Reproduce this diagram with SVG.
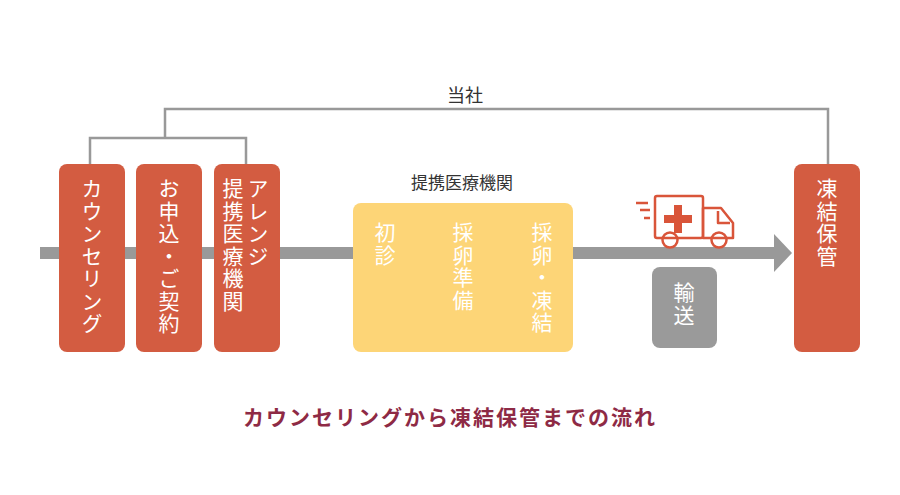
<svg xmlns="http://www.w3.org/2000/svg" width="900" height="495" viewBox="0 0 900 495">
<style>
.b{fill:#d35c41}
.v{font-family:"Noto Sans CJK JP",sans-serif;font-size:21px;writing-mode:vertical-rl;text-orientation:upright;letter-spacing:1.5px}
.w{fill:#fff}
.ln{fill:none;stroke:#999;stroke-width:2.5}
.t{fill:none;stroke:#d9553a;stroke-width:2.5;stroke-linejoin:round}
</style>
<rect width="900" height="495" fill="#fff"/>
<g id="connectors">
<path class="ln" d="M90 164V138H246V164M165 138V109H828V164"/>
<rect x="40" y="247" width="737" height="12" fill="#999"/>
<polygon points="774,234 792,253 774,272" fill="#999"/>
</g>
<text x="465" y="102" text-anchor="middle" font-family="Noto Sans CJK JP,sans-serif" font-size="18" fill="#333">当社</text>
<g id="n1"><rect class="b" x="59" y="164" width="66" height="188" rx="8"/><text class="v w" x="92" y="178">カウンセリング</text></g>
<g id="n2"><rect class="b" x="136" y="164" width="66" height="188" rx="8"/><text class="v w" x="169" y="178">お申込・ご契約</text></g>
<g id="n3"><rect class="b" x="214" y="164" width="66" height="188" rx="8"/><text class="v w" x="258" y="178">アレンジ</text><text class="v w" x="233" y="178">提携医療機関</text></g>
<g id="n4"><text x="462" y="189" text-anchor="middle" font-family="Noto Sans CJK JP,sans-serif" font-size="17" fill="#333">提携医療機関</text>
<rect x="353" y="203" width="220" height="149" rx="8" fill="#fdd577"/>
<text class="v w" x="385" y="222">初診</text><text class="v w" x="463" y="222">採卵準備</text><text class="v w" x="542" y="222">採卵・凍結</text></g>
<g id="truck">
<path class="t" d="M636 203H648M640 210H650M644 218H650"/>
<rect class="t" x="655" y="196" width="48" height="42" rx="2"/>
<path d="M674 205h8v10h10v8h-10v10h-8v-10h-10v-8h10z" fill="#d9553a"/>
<path class="t" d="M703 208H721L733 223V238H703Z"/>
<path class="t" d="M718 211V223H730"/>
<circle class="t" cx="670" cy="240" r="7.5" fill="#fff"/>
<circle class="t" cx="719" cy="240" r="7.5" fill="#fff"/>
</g>
<g id="n5"><rect x="652" y="267" width="65" height="81" rx="8" fill="#9a9a9a"/><text class="v w" x="684" y="282">輸送</text></g>
<g id="n6"><rect class="b" x="794" y="164" width="66" height="188" rx="8"/><text class="v w" x="827" y="178">凍結保管</text></g>
<text x="450" y="425" text-anchor="middle" font-family="Noto Sans CJK JP,sans-serif" font-size="21" font-weight="bold" fill="#8e2a45" letter-spacing="2">カウンセリングから凍結保管までの流れ</text>
</svg>
